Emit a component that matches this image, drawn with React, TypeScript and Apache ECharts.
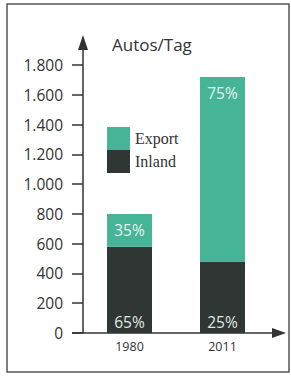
import React, { useEffect, useRef } from "react";
import * as echarts from "echarts";

const categories = ["1980", "2011"];
const inlandValues = [580, 480];
const exportValues = [220, 1240];
const inlandLabels = ["65%", "25%"];
const exportLabels = ["35%", "75%"];
const yTickLabels = ["0", "200", "400", "600", "800", "1.000", "1.200", "1.400", "1.600", "1.800"];

const FONT = "'Open Sans', 'Noto Sans', sans-serif";

export default function App() {
  const ref = useRef<HTMLDivElement>(null);
  useEffect(() => {
    if (!ref.current) return;
    const chart = echarts.init(ref.current, undefined, { renderer: "svg" });
    const axisColor = "#333";
    chart.setOption({
      animation: false,
      backgroundColor: "#fff",
      grid: { left: 83, right: 22, top: 65, bottom: 47 },
      legend: {
        data: ["Export", "Inland"],
        orient: "vertical",
        left: 107,
        top: 127,
        itemWidth: 23,
        itemHeight: 23,
        itemGap: 0,
        padding: 0,
        icon: "rect",
        selectedMode: false,
        textStyle: { fontFamily: "'Liberation Serif', 'DejaVu Serif', serif", fontSize: 16, color: "#333" },
      },
      xAxis: {
        type: "category",
        data: categories,
        axisLine: { show: false },
        axisTick: { show: false },
        axisLabel: { fontFamily: FONT, fontSize: 12.5, color: "#333", margin: 7, fontWeight: 500 },
      },
      yAxis: {
        type: "value",
        min: 0,
        max: 1800,
        interval: 200,
        splitLine: { show: false },
        axisLine: { show: false },
        axisTick: { show: true, length: 11, lineStyle: { color: axisColor, width: 1.5 } },
        axisLabel: {
          fontFamily: FONT,
          fontSize: 15.5,
          color: "#333",
          margin: 20,
          formatter: (v: number) => yTickLabels[Math.round(v / 200)] ?? "",
        },
      },
      series: [
        {
          name: "Inland",
          type: "bar",
          stack: "total",
          barWidth: 45,
          data: inlandValues,
          itemStyle: { color: "#2f3633" },
          label: {
            show: true,
            position: "insideBottom",
            distance: 3,
            fontFamily: FONT,
            fontSize: 15.5,
            color: "#dfe6e3",
            formatter: (p: any) => inlandLabels[p.dataIndex],
          },
        },
        {
          name: "Export",
          type: "bar",
          stack: "total",
          barWidth: 45,
          data: exportValues,
          itemStyle: { color: "#46b496" },
          label: {
            show: true,
            position: "insideTop",
            distance: 8,
            fontFamily: FONT,
            fontSize: 15.5,
            color: "#e4f3ee",
            formatter: (p: any) => exportLabels[p.dataIndex],
          },
        },
      ],
      graphic: [
        {
          type: "rect",
          shape: { x: 7, y: 4, width: 282, height: 368 },
          style: { fill: "none", stroke: "#555", lineWidth: 1.5 },
          silent: true,
        },
        {
          type: "line",
          shape: { x1: 72, y1: 333, x2: 278, y2: 333 },
          style: { stroke: axisColor, lineWidth: 1.5 },
        },
        {
          type: "polygon",
          shape: { points: [[272, 328], [286, 333], [272, 338]] },
          style: { fill: axisColor },
        },
        {
          type: "line",
          shape: { x1: 83, y1: 333, x2: 83, y2: 44 },
          style: { stroke: axisColor, lineWidth: 1.5 },
        },
        {
          type: "polygon",
          shape: { points: [[78, 50], [83, 35], [88, 50]] },
          style: { fill: axisColor },
        },
        {
          type: "text",
          x: 112,
          y: 44,
          style: {
            text: "Autos/Tag",
            fontFamily: FONT,
            fontSize: 17,
            fill: "#333",
            textVerticalAlign: "middle",
            verticalAlign: "middle",
          },
        },
      ],
    });
    return () => chart.dispose();
  }, []);
  return (
    <div
      ref={ref}
      style={{ position: "fixed", left: 0, top: 0, width: 291, height: 380, background: "#fff" }}
    />
  );
}
